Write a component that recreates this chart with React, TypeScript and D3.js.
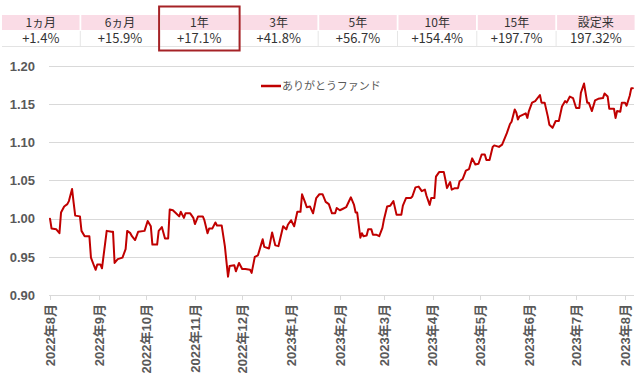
import React from 'react';
import * as d3 from 'd3';

const periods = ['1ヵ月', '6ヵ月', '1年', '3年', '5年', '10年', '15年', '設定来'];
const returns = ['+1.4%', '+15.9%', '+17.1%', '+41.8%', '+56.7%', '+154.4%', '+197.7%', '197.32%'];
const highlighted = '1年';
const seriesName = 'ありがとうファンド';
const yTicks = [0.9, 0.95, 1.0, 1.05, 1.1, 1.15, 1.2];
const monthTicks = [
  '2022-08-01', '2022-09-01', '2022-10-01', '2022-11-01', '2022-12-01', '2023-01-01', '2023-02-01',
  '2023-03-01', '2023-04-01', '2023-05-01', '2023-06-01', '2023-07-01', '2023-08-01',
];

const dates = [
  '2022-08-01', '2022-08-02', '2022-08-05', '2022-08-07', '2022-08-08', '2022-08-10', '2022-08-12', '2022-08-13',
  '2022-08-15', '2022-08-16', '2022-08-17', '2022-08-20', '2022-08-21', '2022-08-23', '2022-08-26', '2022-08-27',
  '2022-08-29', '2022-08-30', '2022-08-31', '2022-09-02', '2022-09-03', '2022-09-06', '2022-09-09', '2022-09-10',
  '2022-09-11', '2022-09-13', '2022-09-16', '2022-09-18', '2022-09-19', '2022-09-21', '2022-09-22', '2022-09-24',
  '2022-09-26', '2022-09-30', '2022-10-02', '2022-10-04', '2022-10-05', '2022-10-08', '2022-10-09', '2022-10-11',
  '2022-10-13', '2022-10-15', '2022-10-16', '2022-10-18', '2022-10-20', '2022-10-22', '2022-10-23', '2022-10-25',
  '2022-10-26', '2022-10-29', '2022-10-31', '2022-11-01', '2022-11-03', '2022-11-06', '2022-11-07', '2022-11-09',
  '2022-11-10', '2022-11-12', '2022-11-14', '2022-11-15', '2022-11-18', '2022-11-20', '2022-11-22', '2022-11-23',
  '2022-11-26', '2022-11-27', '2022-11-29', '2022-12-01', '2022-12-03', '2022-12-06', '2022-12-07', '2022-12-09',
  '2022-12-11', '2022-12-13', '2022-12-14', '2022-12-15', '2022-12-18', '2022-12-20', '2022-12-22', '2022-12-24',
  '2022-12-27', '2022-12-29', '2022-12-30', '2023-01-01', '2023-01-03', '2023-01-05', '2023-01-07', '2023-01-08',
  '2023-01-10', '2023-01-11', '2023-01-13', '2023-01-15', '2023-01-17', '2023-01-19', '2023-01-21', '2023-01-23',
  '2023-01-25', '2023-01-27', '2023-01-29', '2023-01-30', '2023-02-01', '2023-02-03', '2023-02-05', '2023-02-08',
  '2023-02-10', '2023-02-11', '2023-02-12', '2023-02-14', '2023-02-15', '2023-02-16', '2023-02-18', '2023-02-19',
  '2023-02-21', '2023-02-22', '2023-02-24', '2023-02-26', '2023-02-28', '2023-03-01', '2023-03-03', '2023-03-05',
  '2023-03-07', '2023-03-09', '2023-03-12', '2023-03-13', '2023-03-15', '2023-03-18', '2023-03-19', '2023-03-21',
  '2023-03-23', '2023-03-25', '2023-03-27', '2023-03-28', '2023-03-30', '2023-03-31', '2023-04-02', '2023-04-03',
  '2023-04-05', '2023-04-08', '2023-04-09', '2023-04-10', '2023-04-12', '2023-04-13', '2023-04-15', '2023-04-17',
  '2023-04-18', '2023-04-20', '2023-04-22', '2023-04-24', '2023-04-26', '2023-04-28', '2023-04-30', '2023-05-02',
  '2023-05-04', '2023-05-05', '2023-05-07', '2023-05-09', '2023-05-10', '2023-05-13', '2023-05-15', '2023-05-18',
  '2023-05-20', '2023-05-21', '2023-05-23', '2023-05-24', '2023-05-25', '2023-05-26', '2023-05-28', '2023-05-30',
  '2023-05-31', '2023-06-01', '2023-06-03', '2023-06-05', '2023-06-08', '2023-06-09', '2023-06-11', '2023-06-13',
  '2023-06-14', '2023-06-16', '2023-06-18', '2023-06-20', '2023-06-22', '2023-06-24', '2023-06-25', '2023-06-27',
  '2023-06-29', '2023-07-01', '2023-07-03', '2023-07-04', '2023-07-06', '2023-07-08', '2023-07-09', '2023-07-11',
  '2023-07-13', '2023-07-15', '2023-07-18', '2023-07-19', '2023-07-21', '2023-07-22', '2023-07-25', '2023-07-26',
  '2023-07-27', '2023-07-29', '2023-07-30', '2023-08-01', '2023-08-02', '2023-08-04', '2023-08-05', '2023-08-06',
];

const values = [
  1.000, 0.987, 0.986, 0.981, 1.008, 1.016, 1.019, 1.023,
  1.039, 1.021, 1.004, 1.003, 0.984, 0.977, 0.977, 0.949,
  0.938, 0.933, 0.940, 0.940, 0.935, 0.984, 0.983, 0.983,
  0.942, 0.947, 0.949, 0.960, 0.984, 0.981, 0.977, 0.972,
  0.983, 0.984, 0.997, 0.990, 0.966, 0.966, 0.984, 0.989,
  0.974, 0.974, 1.012, 1.011, 1.007, 1.003, 1.009, 1.001,
  1.007, 1.007, 1.001, 0.993, 1.003, 1.003, 0.998, 0.981,
  0.987, 0.987, 0.995, 0.991, 0.991, 0.964, 0.924, 0.938,
  0.939, 0.931, 0.942, 0.934, 0.934, 0.933, 0.929, 0.950,
  0.952, 0.966, 0.973, 0.963, 0.961, 0.982, 0.965, 0.964,
  0.990, 0.986, 0.992, 0.998, 0.990, 1.009, 1.009, 1.032,
  1.021, 1.015, 1.016, 1.007, 1.027, 1.032, 1.032, 1.022,
  1.019, 1.007, 1.007, 1.014, 1.011, 1.013, 1.015, 1.028,
  1.018, 1.008, 1.008, 0.975, 0.981, 0.977, 0.978, 0.986,
  0.986, 0.979, 0.979, 0.977, 0.988, 0.999, 1.016, 1.017,
  1.023, 1.005, 1.005, 1.017, 1.027, 1.027, 1.029, 1.041,
  1.042, 1.036, 1.038, 1.030, 1.018, 1.027, 1.027, 1.055,
  1.061, 1.061, 1.051, 1.040, 1.048, 1.038, 1.040, 1.040,
  1.049, 1.052, 1.063, 1.065, 1.079, 1.071, 1.072, 1.084,
  1.084, 1.077, 1.077, 1.094, 1.096, 1.094, 1.097, 1.112,
  1.124, 1.127, 1.143, 1.139, 1.130, 1.134, 1.136, 1.138,
  1.132, 1.141, 1.152, 1.154, 1.162, 1.152, 1.152, 1.134,
  1.123, 1.119, 1.128, 1.128, 1.147, 1.154, 1.152, 1.160,
  1.158, 1.145, 1.145, 1.165, 1.177, 1.152, 1.152, 1.141,
  1.155, 1.157, 1.158, 1.164, 1.160, 1.144, 1.144, 1.132,
  1.141, 1.140, 1.152, 1.152, 1.148, 1.161, 1.171, 1.171,
];

const parse = (s: string) => new Date(s + 'T00:00:00Z');

const W = 640;
const H = 378;
const plot = { left: 50, right: 625, top: 66, bottom: 295, gridRight: 634 };

const axisColor = '#595959';
const gridColor = '#d9d9d9';
const lineColor = '#c00000';
const labelFont = '"Liberation Sans", Arial, "Noto Sans CJK JP", sans-serif';
const cjkFont = '"Noto Sans CJK JP", "Liberation Sans", sans-serif';

export default function App() {
  const x = d3
    .scaleUtc()
    .domain([parse(monthTicks[0]), parse(monthTicks[monthTicks.length - 1])])
    .range([plot.left, plot.right]);
  const y = d3.scaleLinear().domain([0.9, 1.2]).range([plot.bottom, plot.top]);

  const data = dates.map((d, i) => ({ date: parse(d), value: values[i] }));
  const line = d3
    .line<{ date: Date; value: number }>()
    .x((d) => x(d.date))
    .y((d) => y(d.value));

  const colStart = 2;
  const colStep = 79.3;
  const colW = 77.5;
  const headTop = 15;
  const headH = 15;
  const valTop = 31;
  const valH = 15;

  const fmtMonth = (d: Date) => `${d.getUTCFullYear()}年${d.getUTCMonth() + 1}月`;

  const hi = periods.indexOf(highlighted);

  return (
    <svg
      width={W}
      height={H}
      style={{ position: 'absolute', left: 0, top: 0, background: '#fff' }}
    >
      <rect x={0} y={0} width={W} height={H} fill="#fff" />
      {/* table */}
      <g>
        {periods.map((p, i) => {
          const x0 = colStart + i * colStep;
          return (
            <g key={p}>
              <rect x={x0} y={headTop} width={colW} height={headH} fill="#fadce6" />
              <text
                x={x0 + colW / 2}
                y={headTop + headH / 2}
                dy="0.36em"
                textAnchor="middle"
                fontFamily={cjkFont}
                fontSize={12}
                fill="#333"
              >
                {p}
              </text>
              <text
                x={x0 + colW / 2}
                y={valTop + valH / 2}
                dy="0.36em"
                textAnchor="middle"
                fontFamily={cjkFont}
                fontSize={13}
                fill="#333"
              >
                {returns[i]}
              </text>
              {i > 0 && (
                <line
                  x1={x0 - 1}
                  x2={x0 - 1}
                  y1={valTop}
                  y2={valTop + valH}
                  stroke="#e6e6e6"
                  strokeWidth={1}
                />
              )}
            </g>
          );
        })}
        <line
          x1={colStart}
          x2={colStart + 7 * colStep + colW}
          y1={valTop + valH + 0.5}
          y2={valTop + valH + 0.5}
          stroke="#e3e3e3"
        />
        <rect
          x={colStart + hi * colStep - 1.5}
          y={6.5}
          width={colW + 3}
          height={44}
          fill="none"
          stroke="#a52226"
          strokeWidth={2}
        />
      </g>

      {/* grid */}
      <g>
        {yTicks.map((t) => (
          <g key={t}>
            <line
              x1={plot.left - 1}
              x2={plot.gridRight}
              y1={Math.round(y(t)) + 0.5}
              y2={Math.round(y(t)) + 0.5}
              stroke={gridColor}
              strokeWidth={1}
            />
            <text
              x={35}
              y={y(t)}
              dy="0.36em"
              textAnchor="end"
              fontFamily={labelFont}
              fontWeight="bold"
              fontSize={13}
              fill={axisColor}
            >
              {t.toFixed(2)}
            </text>
          </g>
        ))}
      </g>

      {/* x axis ticks and labels */}
      <g>
        {monthTicks.map((m) => {
          const d = parse(m);
          const px = Math.round(x(d)) + 0.5;
          return (
            <g key={m}>
              <line x1={px} x2={px} y1={plot.bottom} y2={plot.bottom + 5} stroke={gridColor} />
              <text
                transform={`translate(${x(d)},${plot.bottom + 9}) rotate(-90)`}
                dy="0.36em"
                textAnchor="end"
                fontFamily={labelFont}
                fontWeight="bold"
                fontSize={13}
                fill={axisColor}
              >
                {fmtMonth(d)}
              </text>
            </g>
          );
        })}
      </g>

      {/* series */}
      <path
        d={line(data) || ''}
        fill="none"
        stroke={lineColor}
        strokeWidth={2}
        strokeLinejoin="round"
        strokeLinecap="round"
      />

      {/* legend */}
      <g>
        <line x1={261} x2={281} y1={86} y2={86} stroke={lineColor} strokeWidth={2.5} />
        <text
          x={282}
          y={86}
          dy="0.36em"
          fontFamily={cjkFont}
          fontSize={11}
          fill={axisColor}
        >
          {seriesName}
        </text>
      </g>
    </svg>
  );
}
